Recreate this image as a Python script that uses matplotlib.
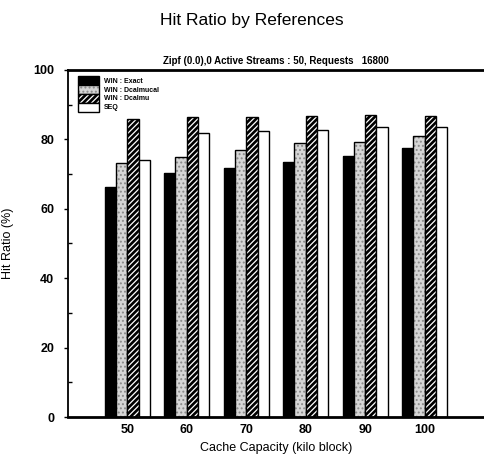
import numpy as np
import matplotlib
matplotlib.use("Agg")
import matplotlib.pyplot as plt
from matplotlib.patches import Patch
from matplotlib.ticker import MultipleLocator

plt.rcParams['font.family'] = ['Liberation Sans', 'DejaVu Sans']
plt.rcParams['hatch.linewidth'] = 0.9

# cache sizes (kilo block)
capacity = [50, 60, 70, 80, 90, 100]

# hit ratio (%) per policy
win_exact = [66.2, 70.4, 71.9, 73.4, 75.2, 77.6]
win_dcalmucal = [73.3, 75.0, 76.9, 78.9, 79.2, 81.0]
win_dcalmu = [85.8, 86.4, 86.4, 86.7, 87.0, 86.7]
seq = [74.1, 81.9, 82.5, 82.7, 83.5, 83.5]

labels = ["WIN : Exact", "WIN : Dcalmucal", "WIN : Dcalmu", "SEQ"]
series = [win_exact, win_dcalmucal, win_dcalmu, seq]

# fill colour, hatch, hatch colour
styles = [
    ("black", None, "black"),
    ("#d6d6d6", "....", "#8a8a8a"),
    ("black", "//////", "white"),
    ("white", None, "white"),
]

fig = plt.figure(figsize=(4.85, 4.59), dpi=100)
ax = fig.add_axes([0.140, 0.0915, 0.858, 0.756])

x = np.array(capacity, dtype=float)
w = 1.9
handles = []
for i, (vals, (fc, hatch, hc)) in enumerate(zip(series, styles)):
    pos = x + (i - 1.5) * w
    ax.bar(pos, vals, w, color=fc, edgecolor=hc, hatch=hatch, linewidth=0)
    ax.bar(pos, vals, w, fill=False, edgecolor="black", linewidth=1.0)
    handles.append((Patch(facecolor=fc, edgecolor=hc, hatch=hatch, linewidth=0),
                    Patch(fill=False, edgecolor="black", linewidth=1.0)))

ax.set_xlim(40, 110)
ax.set_ylim(0, 100)
ax.set_xticks(capacity)
ax.set_xticklabels([str(c) for c in capacity], fontweight="bold", fontsize=9)
ax.yaxis.set_major_locator(MultipleLocator(20))
ax.yaxis.set_minor_locator(MultipleLocator(10))
for t in ax.get_yticklabels():
    t.set_fontweight("bold")
    t.set_fontsize(9)
ax.tick_params(axis="x", length=0, pad=5)
ax.tick_params(axis="y", which="major", direction="out", length=3, width=1, pad=7)
ax.tick_params(axis="y", which="minor", direction="in", length=3, width=1)

ax.spines["left"].set_linewidth(1.3)
ax.spines["bottom"].set_linewidth(2)
ax.spines["top"].set_linewidth(2)
ax.spines["right"].set_linewidth(0.6)
ax.spines["right"].set_color("#bbbbbb")

ax.set_xlabel("Cache Capacity (kilo block)", fontsize=9, labelpad=4)
ax.set_ylabel("Hit Ratio (%)", fontsize=9, labelpad=14)
ax.set_title("Zipf (0.0),0 Active Streams : 50, Requests   16800",
             fontsize=7, fontweight="bold", pad=4)

ax.legend(handles, labels, loc="upper left", bbox_to_anchor=(0.012, 0.997),
          frameon=False, handlelength=3.0, handleheight=1.6,
          labelspacing=0.0, handletextpad=0.8, borderpad=0.2,
          prop={"weight": "bold", "size": 5})

fig.text(0.52, 1 - 20 / 459, "Hit Ratio by References", ha="center",
         va="center", fontsize=12.5)

fig.savefig("out.png", dpi=100)
